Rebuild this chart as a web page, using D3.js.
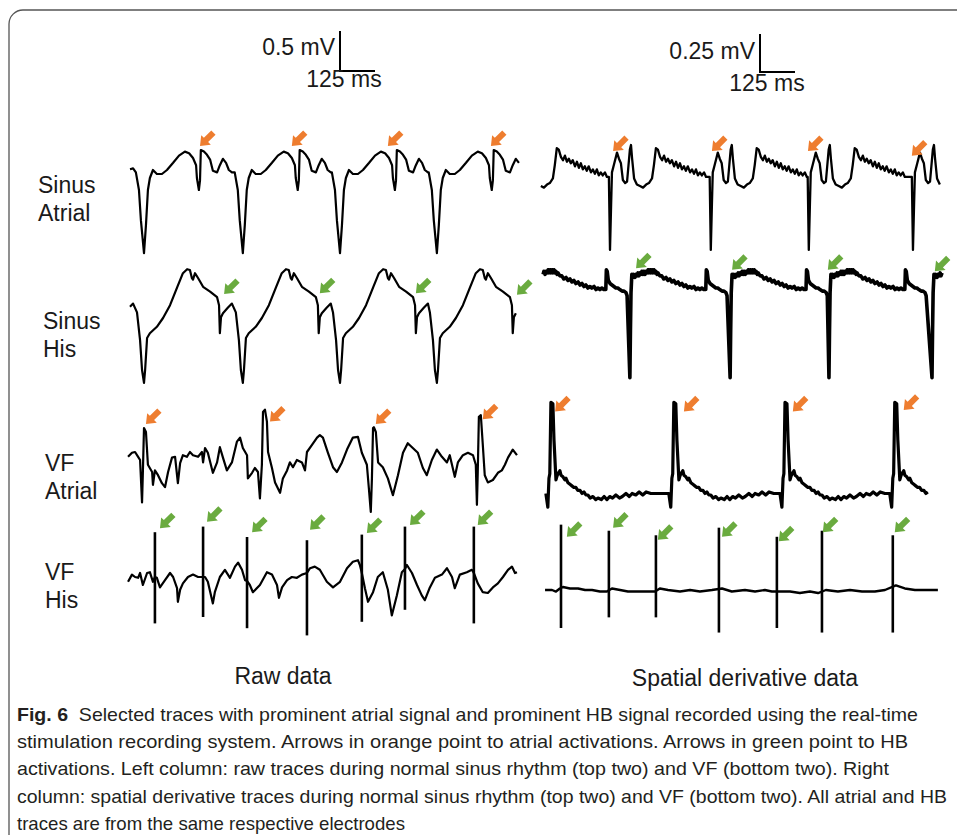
<!DOCTYPE html>
<html lang="en">
<head>
<meta charset="utf-8">
<title>Fig. 6 traces</title>
<script src="https://d3js.org/d3.v7.min.js"></script>
<style>
  body { margin: 0; background: #fff; }
  svg { display: block; }
  .trace, .spike { fill: none; stroke: #000; stroke-linejoin: round; stroke-linecap: butt; }
  .label { font-family: "Liberation Sans", Arial, sans-serif; font-size: 23px; fill: #1a1a1a; }
  .caption { font-family: "Liberation Sans", Arial, sans-serif; font-size: 19px; fill: #231f20; }
</style>
</head>
<body>
<script>
// ---- data (time in ms, amplitude in mV) ----
var rowLabels = [["Sinus", "Atrial"], ["Sinus", "His"], ["VF", "Atrial"], ["VF", "His"]];
var columnTitles = ["Raw data", "Spatial derivative data"];
var scaleBarMv = [0.5, 0.25];
var scaleBarMs = [125, 125];
var scaleBarLabels = ["0.5 mV", "0.25 mV"];

// sinus rhythm, raw: one beat relative to the big trough, plus trough times
var sinusAtrialRawStart = [[0, 0.01], [11, 0.02]];
var sinusAtrialRawBeat = [[-29, -0.03], [-18, -0.25], [-11, -0.63], [0, -1.04], [7, -0.69], [14, -0.25], [21, -0.10], [32, 0], [46, -0.05], [64, -0.05], [82, 0], [104, 0.09], [125, 0.18], [146, 0.23], [161, 0.21], [175, 0.15], [186, 0.06], [189, -0.10], [196, -0.25], [200, -0.13], [203, 0.25], [214, 0.23], [225, 0.19], [236, 0.13], [246, -0.01], [261, -0.03], [271, 0.06], [282, 0.14], [293, 0.09], [303, 0], [314, -0.03]];
var sinusRawBeatTimes = [50, 403, 750, 1096];
var sinusHisRawStart = [[0, 0.04], [11, 0.08]];
var sinusHisRawBeat = [[-25, -0.03], [-14, -0.38], [-7, -0.75], [0, -0.91], [4, -0.75], [11, -0.35], [21, -0.29], [46, -0.21], [68, -0.10], [93, 0.06], [118, 0.28], [139, 0.46], [154, 0.51], [164, 0.50], [171, 0.40], [175, 0.38], [182, 0.46], [193, 0.40], [211, 0.29], [236, 0.23], [261, 0.16], [268, 0.06], [271, -0.29], [275, -0.09], [282, -0.04], [300, 0.03], [314, 0.08]];

// sinus rhythm, spatial derivative: one beat relative to the sharp downward spike
var sinusAtrialDerivBeat = [[-4, 0.02], [0, -0.46], [4, -0.16], [7, 0.05], [14, 0.10], [25, 0.18], [32, 0.14], [39, 0.11], [46, 0], [54, -0.02], [61, -0.01], [71, 0.20], [75, 0.23], [79, 0.14], [86, 0.01], [96, -0.03], [107, -0.04], [118, -0.05], [129, -0.03], [139, -0.02], [150, 0.01], [157, 0.10], [164, 0.21], [171, 0.20], [179, 0.15], [186, 0.13], [193, 0.16], [200, 0.12], [207, 0.14], [214, 0.11], [221, 0.13], [229, 0.09], [236, 0.12], [243, 0.08], [250, 0.11], [257, 0.07], [264, 0.09], [271, 0.06], [278, 0.09], [286, 0.05], [293, 0.07], [300, 0.04], [307, 0.07], [314, 0.03], [321, 0.05], [328, 0.03], [336, 0.05], [343, 0.02]];
var sinusAtrialDerivBeatTimes = [-104, 250, 610, 960, 1332];
var sinusHisDerivBeat = [[0, -0.61], [2, -0.30], [4, -0.05], [7, 0.07], [11, 0.05], [14, 0.07], [18, 0.05], [22, 0.07], [25, 0.06], [29, 0.08], [32, 0.06], [36, 0.08], [40, 0.07], [43, 0.09], [47, 0.07], [50, 0.09], [54, 0.07], [58, 0.09], [61, 0.08], [65, 0.10], [68, 0.08], [72, 0.10], [75, 0.08], [79, 0.10], [82, 0.08], [86, 0.10], [90, 0.08], [93, 0.09], [97, 0.07], [100, 0.08], [107, 0.06], [114, 0.06], [121, 0.04], [129, 0.05], [136, 0.03], [143, 0.04], [150, 0.02], [157, 0.03], [164, 0.01], [172, 0.02], [179, 0.00], [186, 0.01], [193, -0.01], [200, 0.00], [207, -0.02], [214, -0.01], [221, -0.02], [229, -0.01], [236, -0.03], [243, -0.02], [250, -0.03], [257, -0.02], [264, -0.03], [271, -0.03], [273, 0.10], [276, 0.09], [280, 0.03], [286, 0.01], [293, 0.00], [300, -0.01], [307, -0.02], [314, -0.02], [321, -0.03], [329, -0.04], [336, -0.04], [343, -0.05], [347, -0.07]];
var sinusHisDerivBeatTimes = [-36, 321, 679, 1032, 1400];

// VF, raw
var vfAtrialRaw = [[-7, 0.04], [7, 0.09], [18, 0.10], [29, 0.04], [36, 0], [43, -0.53], [46, -0.15], [50, 0.40], [57, 0.35], [64, -0.06], [79, -0.15], [82, -0.31], [89, -0.13], [100, -0.19], [114, -0.29], [125, -0.34], [136, -0.15], [150, 0.03], [161, 0.04], [171, -0.29], [179, -0.04], [189, 0.06], [203, 0.04], [214, 0.10], [225, 0.06], [243, 0.04], [257, 0.10], [261, -0.03], [268, 0.15], [278, 0.09], [296, -0.16], [311, -0.03], [321, 0.16], [332, 0.03], [346, -0.13], [364, -0.03], [382, 0.23], [393, 0.28], [403, 0.15], [418, 0.06], [421, -0.23], [436, -0.16], [446, -0.10], [457, -0.15], [464, -0.48], [471, -0.06], [475, 0.60], [482, 0.63], [489, 0.48], [493, 0.10], [507, -0.10], [518, -0.28], [536, -0.41], [546, -0.23], [561, -0.13], [571, -0.03], [582, -0.09], [596, 0], [614, -0.03], [625, -0.13], [632, 0.10], [650, 0.19], [668, 0.28], [678, 0.31], [689, 0.28], [707, 0.09], [725, -0.09], [739, -0.15], [757, -0.03], [775, 0.13], [796, 0.28], [814, 0.29], [828, 0.09], [846, -0.06], [853, -0.35], [860, -0.65], [864, -0.23], [868, 0.40], [871, 0.41], [878, 0.35], [886, -0.03], [903, -0.09], [921, -0.23], [939, -0.44], [957, -0.19], [975, 0.09], [992, 0.21], [1010, 0.15], [1028, 0.09], [1046, -0.10], [1060, -0.19], [1078, 0], [1096, 0.13], [1114, 0.04], [1132, -0.03], [1142, 0.06], [1160, -0.21], [1171, -0.03], [1189, 0.06], [1207, 0.09], [1225, 0.06], [1235, -0.06], [1239, -0.56], [1242, -0.15], [1246, 0.54], [1253, 0.56], [1260, 0.19], [1267, -0.19], [1278, -0.28], [1296, -0.25], [1314, -0.16], [1328, -0.13], [1339, -0.06], [1350, 0.03], [1367, 0.13], [1382, 0.06]];
var vfHisRaw = [[-7, -0.06], [7, 0.03], [18, 0], [29, -0.01], [36, 0.05], [46, -0.10], [61, 0.05], [71, 0.06], [82, -0.06], [89, 0], [96, -0.01], [107, -0.13], [125, -0.04], [143, 0.05], [154, 0], [168, -0.14], [171, -0.31], [179, -0.16], [189, -0.08], [207, 0], [225, 0.03], [243, 0], [261, 0], [268, 0], [278, -0.06], [296, -0.33], [303, -0.19], [321, 0], [339, 0.09], [357, -0.01], [375, 0.13], [386, 0.18], [400, 0.09], [411, -0.04], [418, -0.05], [428, -0.10], [439, -0.19], [464, -0.10], [489, 0.06], [507, 0.03], [525, -0.10], [532, -0.26], [543, -0.13], [561, -0.04], [578, 0], [596, -0.01], [614, 0.03], [632, 0.05], [643, 0.11], [660, 0.13], [678, 0.09], [703, -0.06], [725, -0.13], [750, -0.06], [775, 0.11], [796, 0.19], [814, 0.21], [821, 0.15], [828, 0.05], [839, -0.14], [850, -0.31], [868, -0.19], [885, 0], [903, 0.06], [921, -0.16], [935, -0.48], [953, -0.23], [971, 0.06], [982, 0.10], [989, 0.15], [1007, 0.05], [1025, -0.10], [1042, -0.23], [1053, -0.29], [1071, -0.13], [1089, -0.01], [1114, 0.03], [1132, 0.11], [1150, 0], [1160, -0.14], [1178, 0.03], [1203, 0.06], [1221, 0.09], [1228, 0.05], [1242, -0.08], [1260, -0.19], [1278, -0.20], [1296, -0.13], [1314, -0.08], [1332, 0], [1350, 0.09], [1364, 0.13], [1375, 0.05], [1382, 0.06]];
var vfHisRawSpikes = [[89, 0.56, -0.58], [261, 0.63, -0.50], [418, 0.50, -0.64], [632, 0.46, -0.73], [828, 0.53, -0.56], [982, 0.63, -0.41], [1228, 0.63, -0.58]];

// VF, spatial derivative
var vfAtrialDerivBeat = [[-18, 0.01], [-11, -0.08], [-7, 0.11], [-4, 0.14], [0, 0.61], [7, 0.60], [11, 0.36], [18, 0.10], [21, 0.12], [25, 0.14], [29, 0.15], [32, 0.16], [36, 0.13], [43, 0.12], [50, 0.10], [54, 0.11], [61, 0.08], [68, 0.07], [75, 0.06], [82, 0.05], [89, 0.05], [96, 0.03], [104, 0.03], [111, 0.01], [118, 0.02], [125, 0.00], [132, 0.00], [140, -0.02], [150, -0.01], [160, -0.03], [168, -0.02], [180, -0.03], [190, -0.01], [200, -0.03], [210, -0.01], [220, -0.02], [232, 0.00], [245, -0.02], [255, -0.01], [268, 0.01], [280, -0.01], [290, 0.01], [303, 0.00], [315, 0.02], [328, 0.00], [340, 0.02], [357, 0.01], [370, 0.01]];
var vfAtrialDerivBeatTimes = [39, 478, 875, 1267];
var vfHisDeriv = [[18, 0], [43, 0], [57, -0.01], [71, 0.01], [82, 0.02], [107, 0.01], [136, 0.01], [161, 0], [186, 0], [214, -0.01], [239, -0.01], [257, 0.01], [286, 0], [314, -0.01], [339, -0.01], [375, -0.01], [411, -0.01], [428, 0.01], [457, 0], [500, -0.01], [536, 0], [571, -0.01], [614, 0], [650, 0.01], [685, -0.01], [732, 0], [768, -0.01], [803, 0], [828, -0.01], [857, -0.01], [893, -0.01], [928, -0.02], [964, -0.01], [993, -0.02], [1021, 0], [1064, -0.01], [1107, 0], [1150, -0.01], [1196, -0.01], [1232, 0], [1271, 0.03], [1303, 0.01], [1339, 0], [1385, 0], [1421, 0]];
var vfHisDerivSpikes = [[75, 0.43, -0.25], [246, 0.39, -0.18], [414, 0.36, -0.18], [639, 0.41, -0.28], [846, 0.35, -0.25], [1007, 0.39, -0.28], [1260, 0.36, -0.28]];

// arrow tips [ms, mV]
var sinusAtrialRawArrows = [[250, 0.30], [578, 0.30], [921, 0.30], [1289, 0.30]];
var sinusHisRawArrows = [[336, 0.20], [678, 0.21], [1021, 0.21], [1382, 0.19]];
var vfAtrialRawArrows = [[57, 0.45], [500, 0.48], [878, 0.45], [1260, 0.51]];
var vfHisRawArrows = [[107, 0.61], [275, 0.69], [436, 0.56], [643, 0.59], [846, 0.55], [1000, 0.65], [1242, 0.65]];
var sinusAtrialDerivArrows = [[261, 0.19], [614, 0.19], [957, 0.19], [1328, 0.16]];
var sinusHisDerivArrows = [[343, 0.11], [686, 0.10], [1028, 0.10], [1410, 0.09]];
var vfAtrialDerivArrows = [[54, 0.55], [514, 0.55], [903, 0.55], [1299, 0.56]];
var vfHisDerivArrows = [[96, 0.35], [261, 0.41], [421, 0.33], [650, 0.35], [853, 0.32], [1010, 0.38], [1267, 0.38]];

var captionLines = [
  "Selected traces with prominent atrial signal and prominent HB signal recorded using the real-time",
  "stimulation recording system. Arrows in orange point to atrial activations. Arrows in green point to HB",
  "activations. Left column: raw traces during normal sinus rhythm (top two) and VF (bottom two). Right",
  "column: spatial derivative traces during normal sinus rhythm (top two) and VF (bottom two). All atrial and HB",
  "traces are from the same respective electrodes"
];

var ORANGE = "#ee7d2f", GREEN = "#6aab3f";

// ---- build beats ----
function repeatBeat(start, beat, times, tMin, tMax) {
  var pts = start.slice();
  times.forEach(function(b) {
    beat.forEach(function(p) {
      var t = b + p[0];
      if (t >= tMin && t <= tMax) pts.push([t, p[1]]);
    });
  });
  return pts;
}

var width = 957, height = 835;
var svg = d3.select("body").append("svg").attr("width", width).attr("height", height);

// frame
svg.append("path")
  .attr("d", "M9,836 L9,24 A14,14 0 0 1 23,10 L958,10")
  .attr("fill", "none").attr("stroke", "#555").attr("stroke-width", 1.3);

// column scales: 125 ms = 35 px
var xLeft = d3.scaleLinear().domain([0, 1400]).range([130, 130 + 1400 * 35 / 125]);
var xRight = d3.scaleLinear().domain([0, 1450]).range([540, 540 + 1450 * 35 / 125]);
var leftPx = 80, rightPx = 152; // px per mV
var leftBase = [170, 310, 460, 577], rightBase = [180, 285, 495, 590];
function yScale(base, pxPerMv) {
  return d3.scaleLinear().domain([-1, 1]).range([base + pxPerMv, base - pxPerMv]);
}

var traces = [
  { x: xLeft, y: yScale(leftBase[0], leftPx), data: repeatBeat(sinusAtrialRawStart, sinusAtrialRawBeat, sinusRawBeatTimes, 15, 1390), w: 2.2, arrows: sinusAtrialRawArrows, color: ORANGE },
  { x: xLeft, y: yScale(leftBase[1], leftPx), data: repeatBeat(sinusHisRawStart, sinusHisRawBeat, sinusRawBeatTimes, 15, 1392), w: 2.2, arrows: sinusHisRawArrows, color: GREEN },
  { x: xLeft, y: yScale(leftBase[2], leftPx), data: vfAtrialRaw, w: 2.2, arrows: vfAtrialRawArrows, color: ORANGE },
  { x: xLeft, y: yScale(leftBase[3], leftPx), data: vfHisRaw, w: 2.2, arrows: vfHisRawArrows, color: GREEN, spikes: vfHisRawSpikes },
  { x: xRight, y: yScale(rightBase[0], rightPx), data: repeatBeat([], sinusAtrialDerivBeat, sinusAtrialDerivBeatTimes, 0, 1436), w: 2.3, arrows: sinusAtrialDerivArrows, color: ORANGE },
  { x: xRight, y: yScale(rightBase[1], rightPx), data: repeatBeat([], sinusHisDerivBeat, sinusHisDerivBeatTimes, 11, 1436), w: 3.6, arrows: sinusHisDerivArrows, color: GREEN },
  { x: xRight, y: yScale(rightBase[2], rightPx), data: repeatBeat([], vfAtrialDerivBeat, vfAtrialDerivBeatTimes, 21, 1385), w: 3.2, arrows: vfAtrialDerivArrows, color: ORANGE },
  { x: xRight, y: yScale(rightBase[3], rightPx), data: vfHisDeriv, w: 2.4, arrows: vfHisDerivArrows, color: GREEN, spikes: vfHisDerivSpikes }
];

// block arrow pointing down-left, tip at origin
var arrowShape = "M0,0 L-8.5,-6.8 L-8.5,-3 L-19,-3 L-19,3 L-8.5,3 L-8.5,6.8 Z";

traces.forEach(function(tr) {
  var line = d3.line().x(function(d) { return tr.x(d[0]); }).y(function(d) { return tr.y(d[1]); });
  svg.append("path").attr("class", "trace").attr("d", line(tr.data)).attr("stroke-width", tr.w);
  if (tr.spikes) {
    svg.selectAll(null).data(tr.spikes).enter().append("line")
      .attr("class", "spike")
      .attr("x1", function(d) { return tr.x(d[0]); })
      .attr("x2", function(d) { return tr.x(d[0]); })
      .attr("y1", function(d) { return tr.y(d[1]); })
      .attr("y2", function(d) { return tr.y(d[2]); })
      .attr("stroke-width", 2.6);
  }
  svg.selectAll(null).data(tr.arrows).enter().append("path")
    .attr("d", arrowShape)
    .attr("fill", tr.color)
    .attr("transform", function(d) { return "translate(" + tr.x(d[0]) + "," + tr.y(d[1]) + ") rotate(135)"; });
});

// row labels
var labelX = [38, 43, 45, 45];
var labelBase = [193, 329, 471, 580];
rowLabels.forEach(function(lab, i) {
  var t = svg.append("text").attr("class", "label");
  lab.forEach(function(s, j) {
    t.append("tspan").attr("x", labelX[i]).attr("y", labelBase[i] + j * 28).text(s);
  });
});

// column titles
svg.append("text").attr("class", "label").attr("x", 283).attr("y", 684).attr("text-anchor", "middle").text(columnTitles[0]);
svg.append("text").attr("class", "label").attr("x", 745).attr("y", 686).attr("text-anchor", "middle").text(columnTitles[1]);

// scale bars
var barOrigin = [[340, 71], [760, 72]];
var barY = [yScale(0, leftPx), yScale(0, rightPx)];
var barX = [xLeft, xRight];
var labelTextX = [335, 755], labelTextY = [55, 59], msTextX = [344, 767], msTextY = [87, 91];
scaleBarMv.forEach(function(mv, i) {
  var o = barOrigin[i];
  var h = barY[i](0) - barY[i](mv);
  var w = barX[i](scaleBarMs[i]) - barX[i](0);
  svg.append("path")
    .attr("d", "M" + o[0] + "," + (o[1] - h) + " L" + o[0] + "," + o[1] + " L" + (o[0] + w) + "," + o[1])
    .attr("fill", "none").attr("stroke", "#000").attr("stroke-width", 2);
  svg.append("text").attr("class", "label").attr("x", labelTextX[i]).attr("y", labelTextY[i])
    .attr("text-anchor", "end").style("font-size", "23px").text(scaleBarLabels[i]);
  svg.append("text").attr("class", "label").attr("x", msTextX[i]).attr("y", msTextY[i])
    .attr("text-anchor", "middle").style("font-size", "23px").text(scaleBarMs[i] + " ms");
});

// caption
var capBase = 721, capStep = 27.2;
var capEnds = [918, 908, 889, 947, 405];
captionLines.forEach(function(s, i) {
  var t = svg.append("text").attr("class", "caption").attr("x", 17).attr("y", capBase + i * capStep)
    .attr("textLength", capEnds[i] - 17).attr("lengthAdjust", "spacingAndGlyphs");
  if (i === 0) {
    t.append("tspan").attr("font-weight", "bold").text("Fig. 6");
    t.append("tspan").text("\u00a0\u00a0" + s);
  } else {
    t.text(s);
  }
});
</script>
</body>
</html>
